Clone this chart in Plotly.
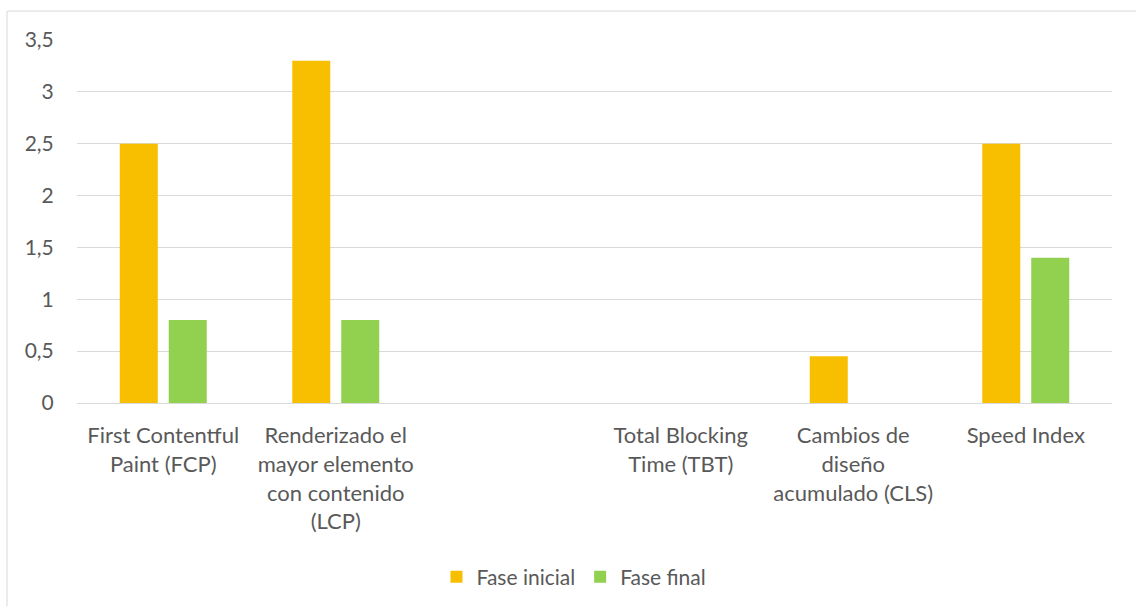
import plotly.graph_objects as go

categories = [
    "First Contentful<br>Paint (FCP)",
    "Renderizado el<br>mayor elemento<br>con contenido<br>(LCP)",
    " ",
    "Total Blocking<br>Time (TBT)",
    "Cambios de<br>diseño<br>acumulado (CLS)",
    "Speed Index",
]
fase_inicial = [2.5, 3.3, 0, 0, 0.45, 2.5]
fase_final = [0.8, 0.8, 0, 0, 0, 1.4]
y_ticks = [0, 0.5, 1, 1.5, 2, 2.5, 3, 3.5]

FONT = "Lato, Carlito, Calibri, sans-serif"
TXT = "#595959"

fig = go.Figure()
fig.add_trace(go.Bar(x=categories, y=fase_inicial, name="Fase inicial",
                     marker=dict(color="#F8BF00", line=dict(width=0))))
fig.add_trace(go.Bar(x=categories, y=fase_final, name="Fase final",
                     marker=dict(color="#92D050", line=dict(width=0))))

W, H = 1136, 608
L, R, T, B = 77, 24, 40, 204
pw, ph = W - L - R, H - T - B

def px(x):
    return (x - L) / pw

def py(y):
    return (H - B - y) / ph

fig.update_layout(
    width=W, height=H,
    margin=dict(l=L, r=R, t=T, b=B, pad=0),
    paper_bgcolor="white", plot_bgcolor="white",
    separators=", ",
    barmode="group", bargap=0.432, bargroupgap=0.224,
    font=dict(family=FONT, size=20, color=TXT),
    showlegend=True,
    legend=dict(orientation="h", x=px(574), xanchor="center", y=py(577), yanchor="middle",
                font=dict(family=FONT, size=21, color=TXT), itemwidth=30,
                traceorder="normal"),
    xaxis=dict(type="category", showgrid=False, showline=False, zeroline=False,
               ticks="outside", ticklen=13, tickcolor="rgba(0,0,0,0)",
               tickfont=dict(family=FONT, size=22, color=TXT)),
    yaxis=dict(range=[0, 3.5], tickvals=y_ticks, showgrid=True, gridcolor="#D9D9D9", gridwidth=1,
               zeroline=True, zerolinecolor="#D9D9D9", zerolinewidth=1, showline=False,
               ticks="outside", ticklen=18, tickcolor="rgba(0,0,0,0)",
               tickfont=dict(family=FONT, size=21, color=TXT)),
    shapes=[
        dict(type="line", xref="paper", yref="paper", x0=px(7), x1=px(1136), y0=py(11), y1=py(11),
             line=dict(color="#D9D9D9", width=1)),
        dict(type="line", xref="paper", yref="paper", x0=px(7), x1=px(7), y0=py(11), y1=py(608),
             line=dict(color="#D9D9D9", width=1)),
    ],
)

fig.write_html("out.html")
